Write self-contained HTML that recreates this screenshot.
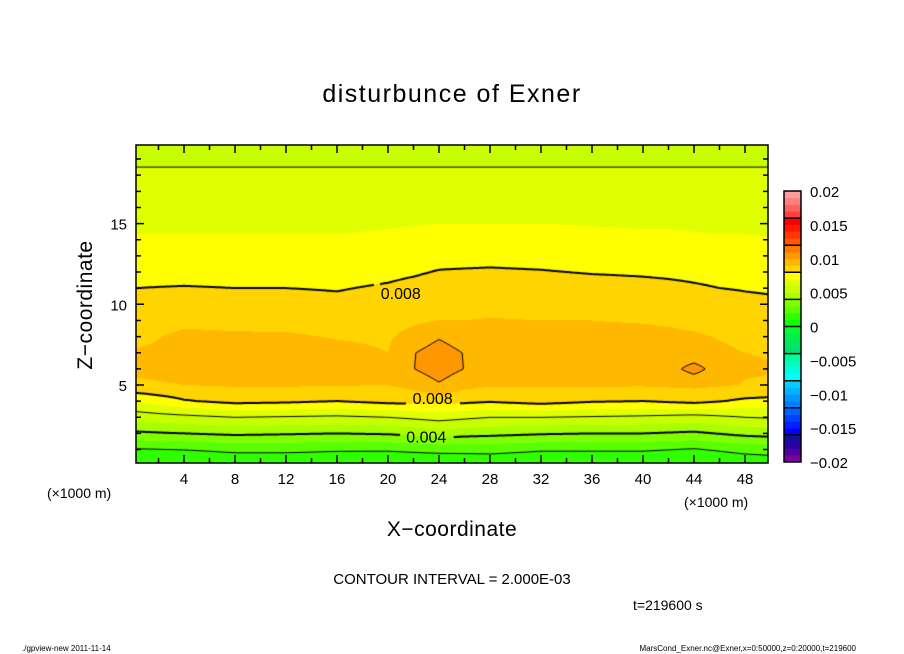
<!DOCTYPE html>
<html><head><meta charset="utf-8">
<style>
html,body{margin:0;padding:0;background:#fff;}
#wrap{position:relative;width:904px;height:654px;overflow:hidden;font-family:"Liberation Sans",sans-serif;}
canvas{position:absolute;left:136px;top:145px;}
svg{position:absolute;left:0;top:0;}
</style></head>
<body>
<div id="wrap">
<canvas id="cv" width="632" height="318"></canvas>
<svg id="sv" width="904" height="654">
<text x="452" y="102" text-anchor="middle" font-size="25" letter-spacing="1.5">disturbunce of Exner</text>
<text x="0" y="0" transform="translate(92,305) rotate(-90)" text-anchor="middle" font-size="21" letter-spacing="0.5">Z−coordinate</text>
<text x="452" y="536" text-anchor="middle" font-size="21" letter-spacing="0.5">X−coordinate</text>
<text x="47" y="498" font-size="14">(×1000 m)</text>
<text x="684" y="507" font-size="14">(×1000 m)</text>
<text x="452" y="584" text-anchor="middle" font-size="15">CONTOUR INTERVAL = 2.000E-03</text>
<text x="633" y="610" font-size="14">t=219600 s</text>
<text x="22" y="651" font-size="8">./gpview-new  2011-11-14</text>
<text x="856" y="651" text-anchor="end" font-size="8">MarsCond_Exner.nc@Exner,x=0:50000,z=0:20000,t=219600</text>
<g id="axes"></g>
<g id="cbar"></g>
</svg>
</div>
<script>
// ---- data (values in units of 1e-3) ----
const xCols = [0,4,8,12,16,20,22,24,26,28,32,36,40,42,44,46,48,50];
const zRows = [0,1,2,3,4,5,6,7,8,9,10,11,12,13,14,15,16,17,18,19,20];
const col0  = [1.0,1.9,3.8,5.4,7.0,8.9,9.1,9.05,8.8,8.5,8.2,8.0,7.7,7.4,7.1,6.8,6.6,6.4,6.1,5.9,5.7];
const col4  = [1.1,2.0,4.0,5.7,7.9,9.0,9.2,9.2,9.15,8.85,8.4,8.05,7.7,7.4,7.1,6.8,6.6,6.4,6.1,5.9,5.7];
const col8  = [1.2,2.2,4.2,6.0,8.3,9.1,9.3,9.3,9.1,8.8,8.4,8.0,7.7,7.4,7.1,6.8,6.6,6.4,6.1,5.9,5.7];
const col12 = [1.2,2.2,4.1,5.9,8.2,9.1,9.3,9.3,9.1,8.75,8.35,8.0,7.7,7.4,7.1,6.8,6.6,6.4,6.1,5.9,5.7];
const col16 = [1.2,2.1,4.0,5.8,8.0,9.05,9.2,9.2,8.95,8.65,8.2,7.95,7.7,7.4,7.1,6.8,6.6,6.4,6.1,5.9,5.7];
const col20 = [1.1,2.1,4.1,6.0,8.3,9.0,9.2,9.0,8.9,8.7,8.4,8.1,7.8,7.5,7.2,6.9,6.6,6.4,6.1,5.9,5.7];
const col22 = [1.05,2.2,4.3,6.2,8.35,9.3,9.98,9.95,9.3,8.85,8.55,8.25,7.9,7.6,7.25,6.95,6.65,6.4,6.1,5.9,5.7];
const col24 = [1.0,2.3,4.6,6.4,8.4,9.9,10.5,10.5,9.9,9.0,8.7,8.4,8.05,7.7,7.3,7.0,6.7,6.4,6.1,5.9,5.7];
const col26 = [1.1,2.3,4.4,6.2,8.25,9.3,9.98,9.95,9.4,9.0,8.72,8.42,8.08,7.72,7.32,7.0,6.7,6.4,6.1,5.9,5.7];
const col28 = [1.2,2.3,4.3,6.0,8.1,9.1,9.3,9.35,9.25,9.05,8.75,8.45,8.1,7.75,7.35,7.0,6.7,6.4,6.1,5.9,5.7];
const col32 = [1.1,2.1,4.1,6.0,8.4,9.1,9.3,9.3,9.2,9.0,8.7,8.4,8.05,7.7,7.3,7.0,6.7,6.4,6.1,5.9,5.7];
const col36 = [1.1,2.1,4.0,5.9,8.1,9.1,9.3,9.3,9.2,9.0,8.7,8.35,7.95,7.6,7.25,6.95,6.7,6.4,6.1,5.9,5.7];
const col40 = [1.1,2.1,4.0,5.8,8.0,9.1,9.3,9.3,9.2,8.95,8.6,8.25,7.9,7.55,7.2,6.9,6.65,6.4,6.1,5.9,5.7];
const col42 = [1.05,2.0,3.9,5.7,8.15,9.15,9.6,9.3,9.15,8.9,8.55,8.2,7.85,7.5,7.2,6.9,6.6,6.4,6.1,5.9,5.7];
const col44 = [1.0,1.9,3.8,5.6,8.3,9.2,10.4,9.3,9.1,8.8,8.5,8.1,7.8,7.5,7.15,6.85,6.6,6.4,6.1,5.9,5.7];
const col46 = [1.1,2.1,4.05,5.8,8.05,9.1,9.5,9.15,8.95,8.65,8.35,8.0,7.75,7.45,7.1,6.8,6.6,6.4,6.1,5.9,5.7];
const col48 = [1.2,2.3,4.3,6.0,7.8,8.95,9.1,9.0,8.8,8.5,8.2,7.95,7.7,7.4,7.1,6.8,6.6,6.4,6.1,5.9,5.7];
const col50 = [1.3,2.4,4.4,6.1,7.7,8.9,9.05,8.95,8.75,8.45,8.15,7.9,7.6,7.35,7.05,6.8,6.6,6.4,6.1,5.9,5.7];
const columns = [col0,col4,col8,col12,col16,col20,col22,col24,col26,col28,col32,col36,col40,col42,col44,col46,col48,col50];
const contourLevels = [2,4,6,8,10];
const thickLevels = [4,8];
const xTicks = [4,8,12,16,20,24,28,32,36,40,44,48];
const zTicks = [5,10,15];
const cbLabels = ["0.02","0.015","0.01","0.005","0","−0.005","−0.01","−0.015","−0.02"];
const cbLabelVals = [20,15,10,5,0,-5,-10,-15,-20];
const bandColors = ["#7a00a0","#5000a0","#2a00a0","#1010a0",
"#0000ff","#0020ff","#0040ff","#0060ff",
"#0080ff","#0098ff","#00b4ff","#00d0ff",
"#00ffff","#00ffe0","#00ffc0","#00ff98",
"#00e070","#00e860","#00f048","#00ff30",
"#10ff00","#30ff00","#5aff00","#80ff00",
"#a8ff00","#c8ff00","#e0ff00","#ffff00",
"#ffd400","#ffb800","#ff9800","#ff7800",
"#ff5800","#ff3800","#ff1800","#ff0000",
"#ff4040","#ff6060","#ff8080","#ff9c9c"];

const X0 = 136, X1 = 768, Y0 = 145, Y1 = 463;
const sx = x => 133 + 12.75 * x;
const sz = z => 465.7 - 16.14 * z;
const ix = px => (px - 133) / 12.75;
const iz = py => (465.7 - py) / 16.14;

function field(x, z){
  x = Math.max(xCols[0], Math.min(xCols[xCols.length-1], x));
  z = Math.max(zRows[0], Math.min(zRows[zRows.length-1], z));
  let i = 0; while (i < xCols.length-2 && x > xCols[i+1]) i++;
  let j = 0; while (j < zRows.length-2 && z > zRows[j+1]) j++;
  const tx = (x - xCols[i]) / (xCols[i+1] - xCols[i]);
  const tz = (z - zRows[j]) / (zRows[j+1] - zRows[j]);
  const a = columns[i][j], b = columns[i+1][j], c = columns[i][j+1], d = columns[i+1][j+1];
  return (a*(1-tx)+b*tx)*(1-tz) + (c*(1-tx)+d*tx)*tz;
}
function hex(c){return [parseInt(c.slice(1,3),16),parseInt(c.slice(3,5),16),parseInt(c.slice(5,7),16)];}
const rgb = bandColors.map(hex);

const cv = document.getElementById('cv'), ctx = cv.getContext('2d');
const W = cv.width, H = cv.height;
const img = ctx.createImageData(W, H);
for (let j=0;j<H;j++){ for (let i=0;i<W;i++){
  const v = field(ix(X0+i+0.5), iz(Y0+j+0.5));
  let k = Math.floor(v + 20); k = Math.max(0, Math.min(39, k));
  const p = (j*W+i)*4, c = rgb[k];
  img.data[p]=c[0]; img.data[p+1]=c[1]; img.data[p+2]=c[2]; img.data[p+3]=255;
}}
ctx.putImageData(img,0,0);

const labelBoxes = [
  {lv:8, x:21.0, z:10.7, text:"0.008"},
  {lv:8, x:23.5, z:4.2, text:"0.008"},
  {lv:4, x:23.0, z:1.8, text:"0.004"}
];
const gaps = labelBoxes.map(b => ({x0:sx(b.x)-27, x1:sx(b.x)+27, y0:sz(b.z)-9, y1:sz(b.z)+9}));
const step = 2;
const nx = Math.ceil(W/step)+1, ny = Math.ceil(H/step)+1;
const G = [];
for (let j=0;j<ny;j++){ G[j]=[]; for (let i=0;i<nx;i++) G[j][i]=field(ix(X0+i*step), iz(Y0+j*step)); }
contourLevels.forEach(lv => {
  ctx.beginPath();
  for (let j=0;j<ny-1;j++) for (let i=0;i<nx-1;i++){
    const c = [[i,j],[i+1,j],[i+1,j+1],[i,j+1]];
    const pts = [];
    for (let e=0;e<4;e++){
      const p=c[e], q=c[(e+1)%4];
      const a=G[p[1]][p[0]]-lv, b=G[q[1]][q[0]]-lv;
      if ((a<0)!==(b<0)){ const t=a/(a-b); pts.push([(p[0]+(q[0]-p[0])*t)*step,(p[1]+(q[1]-p[1])*t)*step]); }
    }
    for (let k=0;k+1<pts.length;k+=2){
      const mx = X0+(pts[k][0]+pts[k+1][0])/2, my = Y0+(pts[k][1]+pts[k+1][1])/2;
      if (gaps.some(g => mx>g.x0 && mx<g.x1 && my>g.y0 && my<g.y1)) continue;
      ctx.moveTo(pts[k][0],pts[k][1]); ctx.lineTo(pts[k+1][0],pts[k+1][1]);
    }
  }
  ctx.strokeStyle="#000"; ctx.lineWidth = thickLevels.includes(lv)?2:1; ctx.stroke();
});

const NS="http://www.w3.org/2000/svg";
function mk(tag, attrs, parent){ const e=document.createElementNS(NS,tag); for(const k in attrs) e.setAttribute(k,attrs[k]); parent.appendChild(e); return e; }
const axes = document.getElementById('axes');
labelBoxes.forEach(b => {
  const t = mk('text',{x:sx(b.x), y:sz(b.z)+6, 'text-anchor':'middle','font-size':16}, axes);
  
  
  t.textContent=b.text;
});
const frame = mk('rect',{x:X0,y:Y0,width:X1-X0,height:Y1-Y0,fill:'none',stroke:'#000','stroke-width':1.5}, axes);


let tk = "";
for (let x=2;x<=48;x+=2){ const L = x%4===0?8:5; const px=sx(x);
  tk += `M${px},${Y1}v${-L}M${px},${Y0}v${L}`; }
for (let z=1;z<=19;z++){ const L = z%5===0?8:5; const py=sz(z);
  tk += `M${X0},${py}h${L}M${X1},${py}h${-L}`; }
const ticks = mk('path',{d:tk,stroke:'#000','stroke-width':1.5,fill:'none'}, axes);


xTicks.forEach(v => { const t=mk('text',{x:sx(v),y:484,'text-anchor':'middle','font-size':15},axes);
  
  
  t.textContent=v; });
zTicks.forEach(v => { const t=mk('text',{x:127,y:sz(v)+6,'text-anchor':'end','font-size':15},axes);
  
  
  t.textContent=v; });

const cb = document.getElementById('cbar');
const CBX=784, CBW=17, CBT=191, CBB=462;
const cy = v => CBB - (v+20)/40*(CBB-CBT);
bandColors.forEach((c,k) => {
  const r = mk('rect',{x:CBX,y:cy(k-19),width:CBW,height:cy(k-20)-cy(k-19)+0.3,fill:c},cb);
  
  
});
let sep="";
for (let v=-16; v<=16; v+=4) sep += `M${CBX},${cy(v)}h${CBW}`;
const sp = mk('path',{d:sep,stroke:'#000','stroke-width':1.5},cb);


const cbf = mk('rect',{x:CBX,y:CBT,width:CBW,height:CBB-CBT,fill:'none',stroke:'#000','stroke-width':1.5},cb);


cbLabels.forEach((s,k) => { const t=mk('text',{x:810,y:cy(cbLabelVals[k])+6,'font-size':15},cb);
  
  
  t.textContent=s; });
</script>
</body></html>
